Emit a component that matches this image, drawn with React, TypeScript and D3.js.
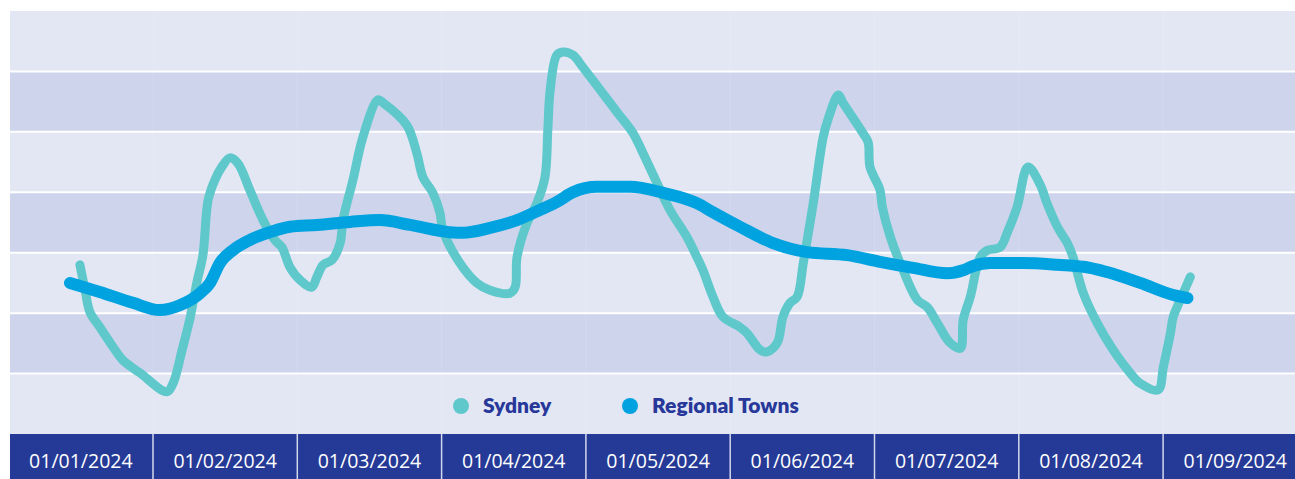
import React, { useEffect, useRef } from "react";
import * as d3 from "d3";

// x = days since 01/01/2024, y = index value (no axis shown)
const months = [
  "01/01/2024", "01/02/2024", "01/03/2024", "01/04/2024", "01/05/2024",
  "01/06/2024", "01/07/2024", "01/08/2024", "01/09/2024",
];

const sydneyDay = [
  -0.2, 0.9, 1.9, 4.0, 6.8, 8.9, 12.5, 18.2, 19.5, 21.4, 23.0, 24.5, 25.8, 26.9, 28.3,
  29.8, 31.5, 33.2, 35.7, 38.5, 41.0, 42.5, 44.2, 46.3, 48.8, 49.9, 51.2, 53.1, 54.8,
  55.4, 57.5, 59.6, 62.8, 63.9, 68.9, 71.0, 72.3, 74.4, 75.9, 76.5, 80.1, 83.7, 86.5,
  90.7, 91.8, 92.2, 94.3, 96.4, 98.1, 98.7, 99.2, 100.6, 101.9, 104.0, 106.1, 113.3,
  116.7, 118.8, 121.8, 124.5, 128.1, 130.2, 131.5, 133.6, 135.7, 139.3, 140.8, 143.6,
  145.0, 147.2, 148.4, 149.9, 151.4, 152.7, 154.8, 156.9, 157.9, 160.1, 161.1, 165.3,
  166.4, 166.8, 168.9, 169.4, 171.1, 173.8, 176.8, 178.9, 181.0, 183.7, 185.9, 186.5,
  188.0, 190.1, 191.6, 194.3, 195.8, 197.9, 200.2, 202.8, 204.2, 206.4, 208.5, 209.7,
  211.9, 214.8, 218.2, 221.8, 223.9, 227.7, 228.8, 230.3, 230.9, 232.4, 234.5,
];
const sydneyVal = [
  28.0, 23.8, 20.2, 17.7, 14.4, 12.2, 10.1, 7.0, 8.4, 13.9, 18.9, 25.0, 29.6, 38.7, 42.0,
  44.2, 45.7, 44.8, 40.4, 35.4, 32.1, 30.9, 27.6, 25.5, 24.3, 26.0, 28.0, 28.8, 31.6,
  35.4, 42.0, 49.1, 55.3, 54.8, 51.1, 46.5, 42.5, 39.9, 36.6, 33.8, 28.3, 25.0, 23.8,
  23.3, 24.3, 29.3, 34.9, 38.2, 42.5, 50.3, 56.9, 62.7, 63.2, 62.7, 60.7, 53.3,
  49.8, 46.5, 41.5, 37.1, 32.6, 29.3, 27.1, 22.7, 19.4, 17.7, 16.7, 13.9,
  13.6, 15.1, 19.4, 21.7, 22.7, 28.3, 38.2, 49.1, 52.0, 56.1, 54.8, 49.8,
  48.3, 44.2, 40.4, 37.6, 32.6, 27.1, 22.2, 21.0, 18.4, 15.1, 14.2, 18.9,
  22.7, 29.3, 30.4, 30.9, 33.3, 37.6, 44.2, 41.2, 38.2, 34.3, 31.6, 29.3,
  23.3, 18.4, 13.9, 10.1, 8.4, 7.3, 11.1, 16.7, 19.4, 22.2, 26.0,
];

const regionalDay = [
  -2.3, 4.0, 11.0, 16.7, 20.9, 25.2, 27.3, 29.4, 32.1, 35.7, 40.0, 44.2, 49.9, 56.9,
  63.2, 69.6, 78.0, 80.8, 86.5, 92.2, 97.1, 100.6, 104.0, 109.1, 116.1, 123.1, 130.2,
  133.6, 139.3, 146.3, 153.5, 162.0, 168.9, 175.9, 183.1, 186.5, 188.6, 192.2, 199.2,
  206.4, 213.3, 216.9, 223.9, 230.9, 233.9,
];
const regionalVal = [
  25.0, 23.5, 21.7, 20.5, 21.3, 23.3, 25.0, 28.3, 30.4, 32.1, 33.4, 34.3, 34.6, 35.1,
  35.4, 34.6, 33.4, 33.3, 34.1, 35.4, 37.1, 38.4, 40.0, 40.9, 40.9, 39.9, 38.2,
  36.7, 34.3, 31.6, 30.1, 29.6, 28.5, 27.5, 26.6, 27.1, 27.8, 28.3, 28.3,
  28.0, 27.5, 26.8, 25.0, 23.0, 22.5,
];

const series = [
  { name: "Sydney", color: "#5ec8cb", days: sydneyDay, vals: sydneyVal, width: 9 },
  { name: "Regional Towns", color: "#00a2df", days: regionalDay, vals: regionalVal, width: 12 },
];

const W = 1295;
const H = 479;

export default function App() {
  const ref = useRef<SVGSVGElement>(null);

  useEffect(() => {
    const svg = d3.select(ref.current);
    svg.selectAll("*").remove();

    const left = 10, top = 11, plotBottom = 434;

    const band = d3.scaleBand().domain(months).range([8.7, 8.7 + 9 * 144.3]).padding(0);
    const mid = (m: string) => (band(m) as number) + band.bandwidth() / 2;
    const x = d3.scaleLinear().domain([0, 244]).range([mid(months[0]), mid(months[8])]);
    const y = d3.scaleLinear().domain([0, 70]).range([plotBottom, top]);

    // background bands
    const steps = d3.range(0, 70, 10);
    svg.append("g").selectAll("rect").data(steps).join("rect")
      .attr("x", left).attr("width", W - left)
      .attr("y", d => y(d + 10)).attr("height", d => y(d) - y(d + 10))
      .attr("fill", d => ((d / 10) % 2 === 1 ? "#cdd4ec" : "#e3e7f4"));

    svg.append("g").selectAll("line").data(d3.range(10, 70, 10)).join("line")
      .attr("x1", left).attr("x2", W)
      .attr("y1", d => y(d)).attr("y2", d => y(d))
      .attr("stroke", "#ffffff").attr("stroke-width", 2);

    svg.append("g").selectAll("line").data(months.slice(1)).join("line")
      .attr("x1", d => band(d) as number).attr("x2", d => band(d) as number)
      .attr("y1", top).attr("y2", plotBottom)
      .attr("stroke", "#ffffff").attr("stroke-opacity", 0.15).attr("stroke-width", 1);

    // lines
    series.forEach(s => {
      const pts = s.days.map((d, i) => [d, s.vals[i]] as [number, number]);
      const line = d3.line<[number, number]>()
        .x(d => x(d[0])).y(d => y(d[1]))
        .curve(s.name === "Sydney" ? d3.curveCatmullRom.alpha(0.5) : d3.curveMonotoneX);
      svg.append("path").datum(pts)
        .attr("d", line)
        .attr("fill", "none")
        .attr("stroke", s.color)
        .attr("stroke-width", s.width)
        .attr("stroke-linecap", "round")
        .attr("stroke-linejoin", "round");
    });

    // legend
    const legendX = [461, 630];
    const lg = svg.append("g").selectAll("g").data(series).join("g")
      .attr("transform", (d, i) => `translate(${legendX[i]},406)`);
    lg.append("circle").attr("r", 8).attr("fill", d => d.color);
    lg.append("text").attr("x", 22).attr("y", 7)
      .attr("font-family", "Lato, 'Open Sans', sans-serif")
      .attr("font-weight", 800).attr("font-size", 21)
      .attr("fill", "#27389a")
      .text(d => d.name);

    // x axis bar
    svg.append("rect").attr("x", left).attr("y", plotBottom)
      .attr("width", W - left).attr("height", H - plotBottom)
      .attr("fill", "#253a96");
    svg.append("g").selectAll("line").data(months.slice(1)).join("line")
      .attr("x1", d => band(d) as number).attr("x2", d => band(d) as number)
      .attr("y1", plotBottom).attr("y2", H)
      .attr("stroke", "#ffffff").attr("stroke-opacity", 0.8).attr("stroke-width", 1.5);
    svg.append("g").selectAll("text").data(months).join("text")
      .attr("x", d => mid(d)).attr("y", 468)
      .attr("text-anchor", "middle")
      .attr("font-family", "'Open Sans', sans-serif")
      .attr("font-size", 19.5)
      .attr("fill", "#ffffff")
      .text(d => d);
  }, []);

  return (
    <svg ref={ref} width={W} height={H}
      style={{ position: "absolute", left: 0, top: 0, background: "#ffffff" }} />
  );
}
